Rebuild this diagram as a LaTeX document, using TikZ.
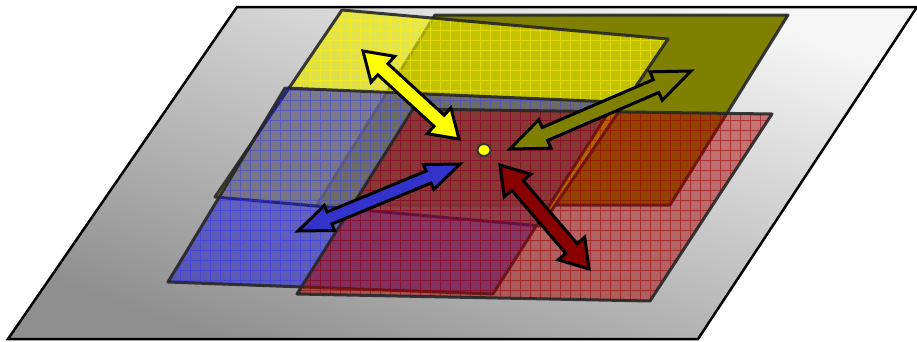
\documentclass[tikz,border=0pt]{standalone}
\usepackage{tikz}
\usepackage{xcolor}
\usetikzlibrary{calc}

\definecolor{olivefill}{HTML}{808000}
\definecolor{yellowfill}{HTML}{FFFF00}
\definecolor{bluefill}{HTML}{1818C8}
\definecolor{redfill}{HTML}{A80000}
\definecolor{bluearrow}{HTML}{3333CC}
\definecolor{redarrow}{HTML}{880000}

% double block arrow: tip, tip, colour, head length, head half width, shaft half width
\newcommand{\dblarrow}[6]{%
  \coordinate (ha) at ($(#1)!#4!(#2)$);
  \coordinate (hb) at ($(#2)!#4!(#1)$);
  \filldraw[bigarrow, fill=#3] (#1)
    -- ($(ha)!#5!90:(#2)$) -- ($(ha)!#6!90:(#2)$)
    -- ($(hb)!#6!-90:(#1)$) -- ($(hb)!#5!-90:(#1)$)
    -- (#2)
    -- ($(hb)!#5!90:(#1)$) -- ($(hb)!#6!90:(#1)$)
    -- ($(ha)!#6!-90:(#2)$) -- ($(ha)!#5!-90:(#2)$)
    -- cycle;
}

\begin{document}
\begin{tikzpicture}[
    x=1pt, y=-1pt,
    plane/.style={draw=black!85, line width=3pt, line join=round, draw opacity=0.9},
    gridline/.style={line width=0.7pt, step=10pt},
    bigarrow/.style={draw=black, line width=3pt}
]
\path[use as bounding box, clip] (0,0) rectangle (917,341);

% Base sheet
\coordinate (base1) at (237,7);
\coordinate (base2) at (917,7);
\coordinate (base3) at (698,339);
\coordinate (base4) at (8,339);
\draw[line width=2.5pt, top color=gray!8, bottom color=gray!88, shading angle=-20]
  (base1) -- (base2) -- (base3) -- (base4) -- cycle;

% Olive sheet
\coordinate (ol1) at (435,15);
\coordinate (ol2) at (788,15);
\coordinate (ol3) at (670,205);
\coordinate (ol4) at (317,205);
\fill[olivefill] (ol1) -- (ol2) -- (ol3) -- (ol4) -- cycle;
\draw[plane] (ol1) -- (ol2) -- (ol3) -- (ol4) -- cycle;

% Yellow sheet
\coordinate (ye1) at (342,10);
\coordinate (ye2) at (668,39);
\coordinate (ye3) at (541,226);
\coordinate (ye4) at (215,197);
\begin{scope}
  \clip (ye1) -- (ye2) -- (ye3) -- (ye4) -- cycle;
  \fill[yellowfill!85!olivefill, fill opacity=0.62] (ye1) -- (ye2) -- (ye3) -- (ye4) -- cycle;
  \draw[gridline, yellowfill!90!orange, opacity=0.5] (200,0) grid (700,240);
\end{scope}
\draw[plane] (ye1) -- (ye2) -- (ye3) -- (ye4) -- cycle;

% Blue sheet
\coordinate (bl1) at (285,88);
\coordinate (bl2) at (615,102);
\coordinate (bl3) at (493,294);
\coordinate (bl4) at (168,282);
\begin{scope}
  \clip (bl1) -- (bl2) -- (bl3) -- (bl4) -- cycle;
  \fill[bluefill, fill opacity=0.5] (bl1) -- (bl2) -- (bl3) -- (bl4) -- cycle;
  \draw[gridline, blue!80!white, opacity=0.5] (160,80) grid (620,300);
\end{scope}
\draw[plane] (bl1) -- (bl2) -- (bl3) -- (bl4) -- cycle;

% Red sheet
\coordinate (rd1) at (413,109);
\coordinate (rd2) at (772,114);
\coordinate (rd3) at (650,301);
\coordinate (rd4) at (297,294);
\begin{scope}
  \clip (rd1) -- (rd2) -- (rd3) -- (rd4) -- cycle;
  \fill[redfill, fill opacity=0.48] (rd1) -- (rd2) -- (rd3) -- (rd4) -- cycle;
  \draw[gridline, redfill!90!black, opacity=0.55] (290,100) grid (780,310);
\end{scope}
\draw[plane] (rd1) -- (rd2) -- (rd3) -- (rd4) -- cycle;

% Arrows
\coordinate (yellowA) at (363,51);
\coordinate (yellowB) at (459,139);
\coordinate (oliveA) at (691,71);
\coordinate (oliveB) at (510,149);
\coordinate (blueA) at (298,231);
\coordinate (blueB) at (460,164);
\coordinate (redA) at (500,165);
\coordinate (redB) at (589,269);

\dblarrow{yellowA}{yellowB}{yellowfill}{27pt}{17.5pt}{7.5pt}
\dblarrow{oliveA}{oliveB}{olivefill}{38pt}{15.5pt}{7pt}
\dblarrow{blueA}{blueB}{bluearrow}{34pt}{13.5pt}{6.5pt}
\dblarrow{redA}{redB}{redarrow}{27pt}{17.5pt}{7.5pt}

% Centre point
\filldraw[fill=yellowfill, draw=black!80, line width=2pt] (484,150) ellipse [x radius=6.5pt, y radius=6pt];

\end{tikzpicture}
\end{document}
